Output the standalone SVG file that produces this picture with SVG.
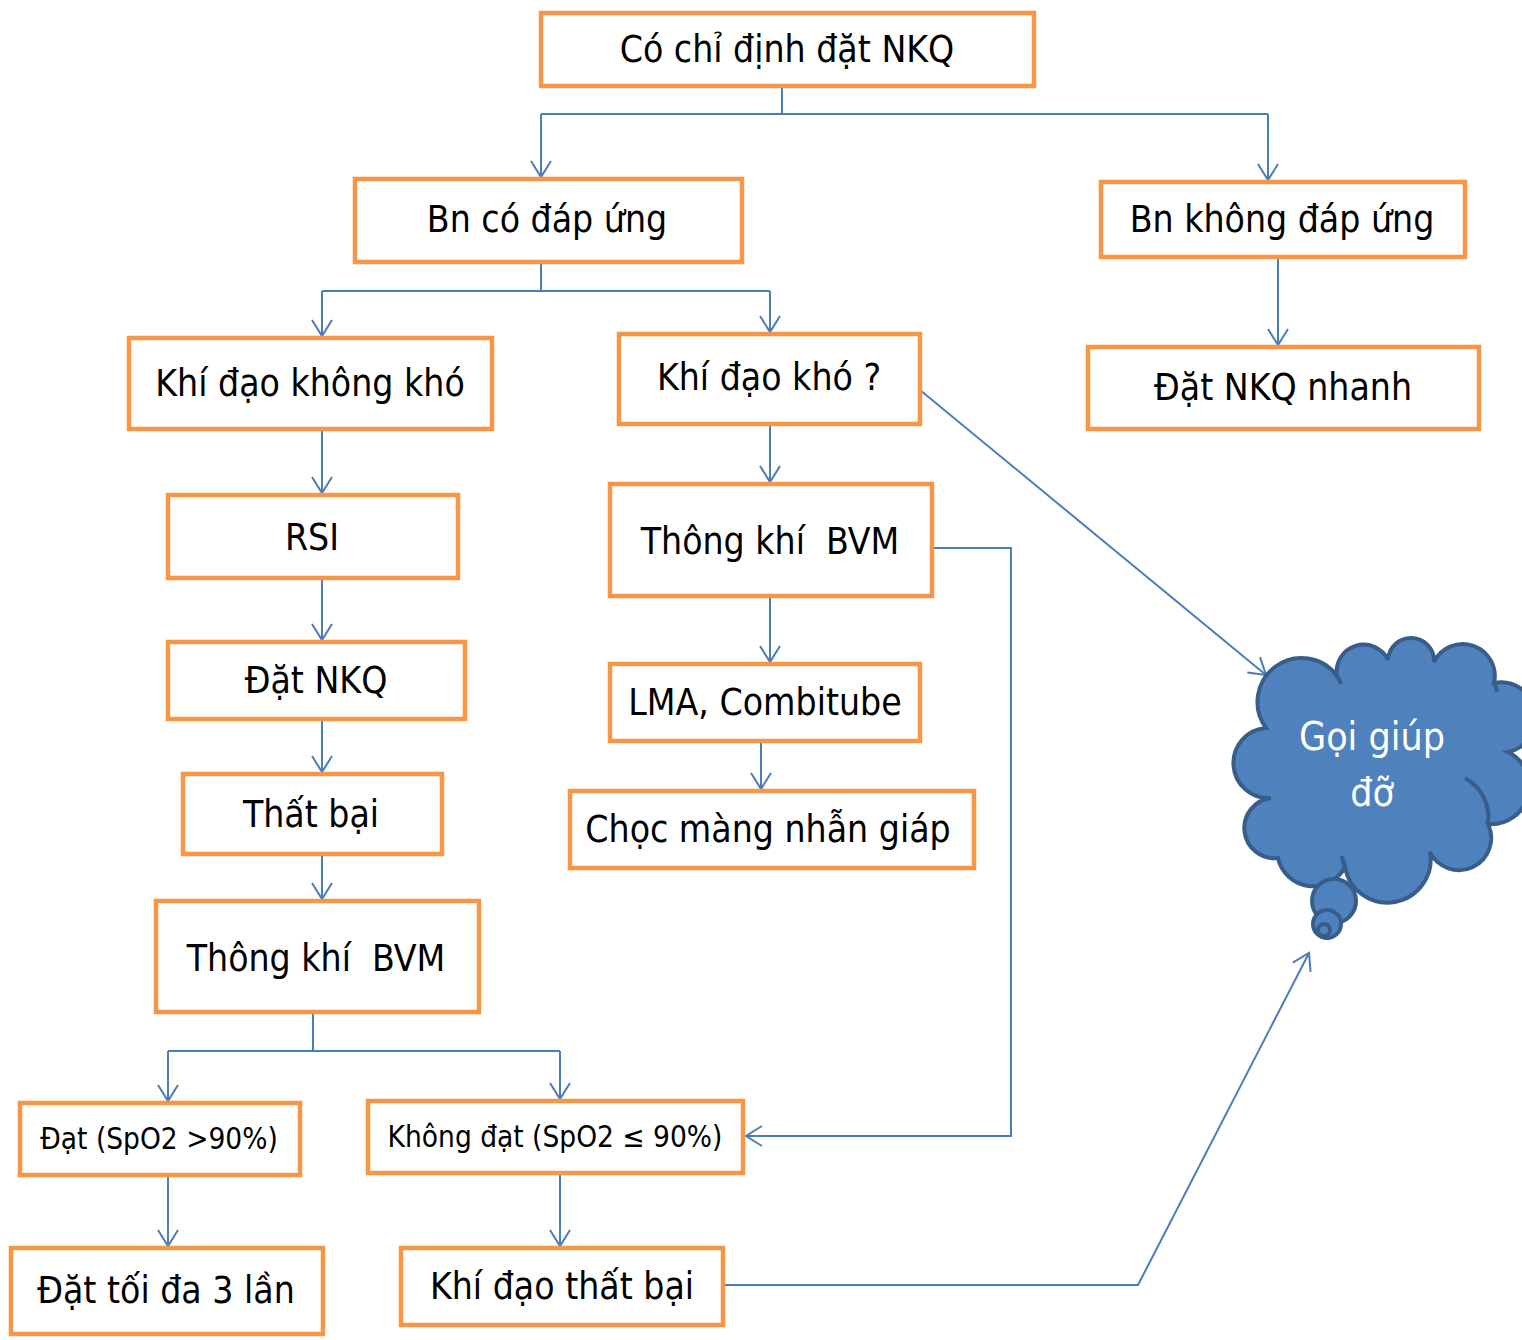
<svg xmlns="http://www.w3.org/2000/svg" width="1522" height="1340" viewBox="0 0 1522 1340">
<style>
.box{fill:#fff;stroke:#F79646;stroke-width:4.5}
.t{font-family:"DejaVu Sans Condensed","DejaVu Sans",sans-serif;font-size:37px;fill:#000;text-anchor:middle}
.s{font-size:29.5px}
.c{fill:none;stroke:#4A7EBB;stroke-width:2}
.ct{font-family:"DejaVu Sans Condensed","DejaVu Sans",sans-serif;font-size:39px;fill:#fff;text-anchor:middle}
</style>
<defs>
<marker id="a" markerUnits="userSpaceOnUse" markerWidth="20" markerHeight="24" viewBox="0 0 18 24" refX="17" refY="12" orient="auto">
<path d="M1,2 L17,12 L1,22" fill="none" stroke="#4A7EBB" stroke-width="2"/>
</marker>
</defs>
<g id="connectors">
<path class="c" d="M782,86 V114"/>
<path class="c" d="M541,114 H1268"/>
<path class="c" d="M541,114 V177" marker-end="url(#a)"/>
<path class="c" d="M1268,114 V180" marker-end="url(#a)"/>
<path class="c" d="M541,262 V291 M322,291 H770"/>
<path class="c" d="M322,291 V336" marker-end="url(#a)"/>
<path class="c" d="M770,291 V332" marker-end="url(#a)"/>
<path class="c" d="M1278,257 V345" marker-end="url(#a)"/>
<path class="c" d="M322,429 V493" marker-end="url(#a)"/>
<path class="c" d="M322,578 V640" marker-end="url(#a)"/>
<path class="c" d="M322,719 V772" marker-end="url(#a)"/>
<path class="c" d="M322,854 V899" marker-end="url(#a)"/>
<path class="c" d="M313,1012 V1051 M168,1051 H560"/>
<path class="c" d="M168,1051 V1101" marker-end="url(#a)"/>
<path class="c" d="M560,1051 V1099" marker-end="url(#a)"/>
<path class="c" d="M168,1175 V1246" marker-end="url(#a)"/>
<path class="c" d="M560,1173 V1246" marker-end="url(#a)"/>
<path class="c" d="M770,424 V482" marker-end="url(#a)"/>
<path class="c" d="M770,596 V662" marker-end="url(#a)"/>
<path class="c" d="M761,741 V789" marker-end="url(#a)"/>
<path class="c" d="M932,548 H1011 V1136 H746" marker-end="url(#a)"/>
<path class="c" d="M920,390 L1266,675" marker-end="url(#a)"/>
<path class="c" d="M723,1285 H1138 L1309,953" marker-end="url(#a)"/>
</g>
<g id="n1"><rect class="box" x="541" y="13" width="493" height="73"/><text class="t" x="787" y="62">Có chỉ định đặt NKQ</text></g>
<g id="n2"><rect class="box" x="355" y="179" width="387" height="83"/><text class="t" x="547" y="232">Bn có đáp ứng</text></g>
<g id="n3"><rect class="box" x="1101" y="182" width="364" height="75"/><text class="t" x="1282" y="232">Bn không đáp ứng</text></g>
<g id="n4"><rect class="box" x="1088" y="347" width="391" height="82"/><text class="t" x="1283" y="400">Đặt NKQ nhanh</text></g>
<g id="n5"><rect class="box" x="129" y="338" width="363" height="91"/><text class="t" x="310" y="396">Khí đạo không khó</text></g>
<g id="n6"><rect class="box" x="619" y="334" width="301" height="90"/><text class="t" x="769" y="390">Khí đạo khó ?</text></g>
<g id="n7"><rect class="box" x="168" y="495" width="290" height="83"/><text class="t" x="312" y="550">RSI</text></g>
<g id="n8"><rect class="box" x="610" y="484" width="322" height="112"/><text class="t" x="770" y="554" xml:space="preserve">Thông khí  BVM</text></g>
<g id="n9"><rect class="box" x="168" y="642" width="297" height="77"/><text class="t" x="316" y="693">Đặt NKQ</text></g>
<g id="n10"><rect class="box" x="610" y="664" width="310" height="77"/><text class="t" x="765" y="715">LMA, Combitube</text></g>
<g id="n11"><rect class="box" x="183" y="774" width="259" height="80"/><text class="t" x="311" y="827">Thất bại</text></g>
<g id="n12"><rect class="box" x="570" y="791" width="404" height="77"/><text class="t" x="768" y="842">Chọc màng nhẫn giáp</text></g>
<g id="n13"><rect class="box" x="156" y="901" width="323" height="111"/><text class="t" x="316" y="971" xml:space="preserve">Thông khí  BVM</text></g>
<g id="n14"><rect class="box" x="20" y="1103" width="280" height="72"/><text class="t s" x="159" y="1149">Đạt (SpO2 &gt;90%)</text></g>
<g id="n15"><rect class="box" x="368" y="1101" width="375" height="72"/><text class="t s" x="555" y="1147">Không đạt (SpO2 ≤ 90%)</text></g>
<g id="n16"><rect class="box" x="11" y="1248" width="312" height="86"/><text class="t" x="166" y="1303">Đặt tối đa 3 lần</text></g>
<g id="n17"><rect class="box" x="401" y="1248" width="322" height="77"/><text class="t" x="562" y="1299">Khí đạo thất bại</text></g>
<g id="cloud">
<g fill="#4F81BD" stroke="#385D8A" stroke-width="4">
<path d="M1266,728 A44,44 0 0 1 1337,676 A27,27 0 0 1 1388,660 A23,23 0 0 1 1434,662 A32,32 0 0 1 1494,683 A35,35 0 0 1 1508,752 A38,38 0 0 1 1488,824 A32,32 0 0 1 1430,852 A43,43 0 0 1 1345,867 A36,36 0 0 1 1278,858 A30,30 0 0 1 1271,798 A35,35 0 0 1 1266,728 Z"/>
<circle cx="1334" cy="901" r="22"/>
<circle cx="1327" cy="924" r="14"/>
<circle cx="1324" cy="930" r="6"/>
</g>
<g fill="none" stroke="#385D8A" stroke-width="4">
<path d="M1465,778 A45,45 0 0 1 1488,824"/>
<path d="M1337,676 A30,30 0 0 1 1341,684"/>
<path d="M1494,683 A30,30 0 0 1 1497,692"/>
<path d="M1345,867 A30,30 0 0 1 1342,856"/>
</g>
<text class="ct" x="1372" y="750">Gọi giúp</text>
<text class="ct" x="1372" y="806">đỡ</text>
</g>
</svg>
